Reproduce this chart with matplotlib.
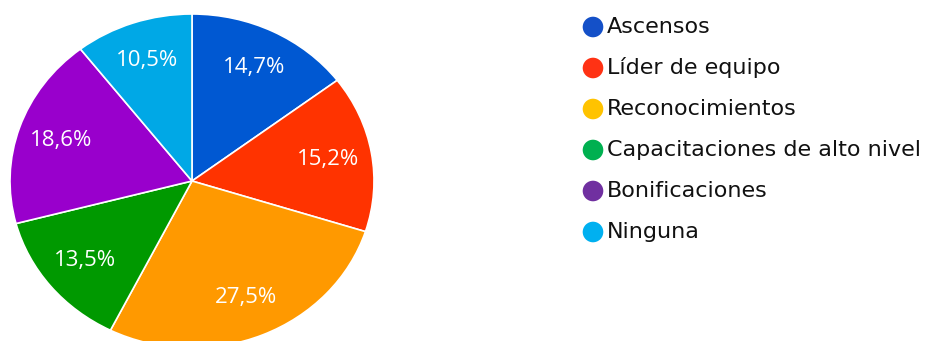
import matplotlib.pyplot as plt

# Data
categories = ['Ascensos', 'Líder de equipo', 'Reconocimientos',
              'Capacitaciones de alto nivel', 'Bonificaciones', 'Ninguna']
percentages = [14.7, 15.2, 27.5, 13.5, 18.6, 10.5]
pie_colors = ['#0058d2', '#ff3300', '#ff9900', '#009900', '#9900cc', '#00a8e6']
legend_colors = ['#1450c8', '#ff3214', '#ffc300', '#00b050', '#7030a0', '#00b0f0']

W, H = 930, 341
fig = plt.figure(figsize=(W / 100, H / 100), dpi=100)

# Pie axes (slightly stretched horizontally like the reference)
cx, cy, rx, ry = 192, 181, 182, 167
ax = fig.add_axes([(cx - rx) / W, (H - cy - ry) / H, 2 * rx / W, 2 * ry / H])
wedges, texts, autotexts = ax.pie(
    percentages, colors=pie_colors, startangle=90, counterclock=False,
    autopct=lambda p: f'{p:.1f}%'.replace('.', ','), pctdistance=0.76,
    wedgeprops=dict(edgecolor='white', linewidth=1.2),
    textprops=dict(color='white', fontsize=16, family='Open Sans'))
ax.set_aspect('auto')
ax.set_xlim(-1, 1)
ax.set_ylim(-1, 1)
ax.axis('off')

# Legend drawn in pixel coordinates
lax = fig.add_axes([0, 0, 1, 1])
lax.set_xlim(0, W)
lax.set_ylim(H, 0)
lax.axis('off')
for i, (name, col) in enumerate(zip(categories, legend_colors)):
    y = 27 + 41 * i
    lax.scatter(593, y, s=220, color=col, edgecolors='none')
    lax.text(607, y, name, fontsize=16, family='DejaVu Sans',
             va='center', ha='left', color='#111111')

fig.savefig('out.png', dpi=100)
